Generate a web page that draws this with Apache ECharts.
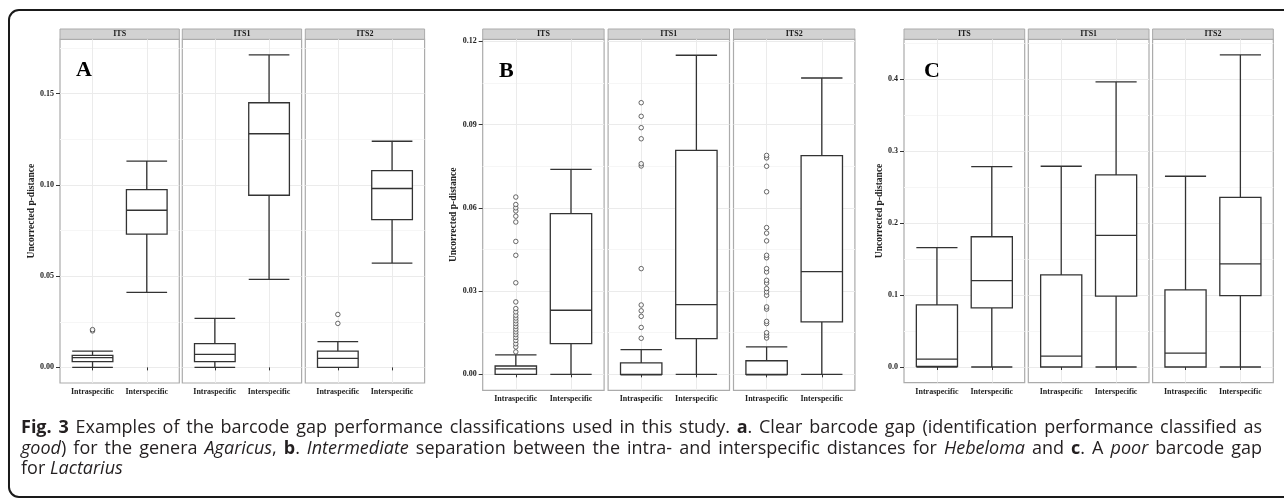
<!DOCTYPE html>
<html lang="en">
<head>
<meta charset="UTF-8">
<title>Fig. 3 barcode gap</title>
<script src="https://cdn.jsdelivr.net/npm/echarts@6/dist/echarts.min.js"></script>
<style>
  html, body { margin: 0; padding: 0; background: #fff; }
  #main { width: 1284px; height: 499px; }
</style>
</head>
<body>
<div id="main"></div>
<script>
var categories = ['Intraspecific', 'Interspecific'];
var markers = ['ITS', 'ITS1', 'ITS2'];
var letters = ['A', 'B', 'C'];

// boxes: [lower whisker, Q1, median, Q3, upper whisker], one per marker
var agaricusIntra = [
  [0, 0.0031, 0.0053, 0.0066, 0.0089],
  [0, 0.0031, 0.0071, 0.0130, 0.0268],
  [0, 0.0000, 0.0049, 0.0089, 0.0141]
];
var agaricusInter = [
  [0.0411, 0.0730, 0.0861, 0.0974, 0.1130],
  [0.0482, 0.0943, 0.1280, 0.1450, 0.1712],
  [0.0571, 0.0810, 0.0980, 0.1078, 0.1239]
];
var agaricusOutliers = [[0.0200, 0.0207], [], [0.0241, 0.0290]];
var agaricusTicks = [0, 0.05, 0.10, 0.15];

var hebelomaIntra = [
  [0, 0, 0.0020, 0.0030, 0.0070],
  [0, 0, 0, 0.0041, 0.0089],
  [0, 0, 0, 0.0049, 0.0099]
];
var hebelomaInter = [
  [0, 0.0111, 0.0231, 0.0579, 0.0739],
  [0, 0.0129, 0.0251, 0.0807, 0.1150],
  [0, 0.0189, 0.0370, 0.0788, 0.1068]
];
var hebelomaOutliers = [
  [0.0081, 0.0099, 0.0110, 0.0122, 0.0133, 0.0143, 0.0153, 0.0163, 0.0173, 0.0183, 0.0193, 0.0203,
   0.0213, 0.0225, 0.0237, 0.0261, 0.0330, 0.0429, 0.0479, 0.0549, 0.0570, 0.0589, 0.0600, 0.0612, 0.0639],
  [0.0130, 0.0169, 0.0209, 0.0229, 0.0250, 0.0381, 0.0751, 0.0759, 0.0849, 0.0889, 0.0930, 0.0979],
  [0.0131, 0.0141, 0.0150, 0.0183, 0.0191, 0.0235, 0.0243, 0.0285, 0.0297, 0.0309, 0.0329, 0.0339,
   0.0369, 0.0381, 0.0420, 0.0429, 0.0481, 0.0509, 0.0529, 0.0658, 0.0750, 0.0780, 0.0789]
];
var hebelomaTicks = [0, 0.03, 0.06, 0.09, 0.12];

var lactariusIntra = [
  [0, 0.0010, 0.0110, 0.0864, 0.1658],
  [0, 0, 0.0152, 0.1280, 0.2790],
  [0, 0, 0.0194, 0.1072, 0.2651]
];
var lactariusInter = [
  [0, 0.0822, 0.1201, 0.1810, 0.2785],
  [0, 0.0984, 0.1829, 0.2670, 0.3963],
  [0, 0.0993, 0.1432, 0.2356, 0.4337]
];
var lactariusOutliers = [[], [], []];
var lactariusTicks = [0, 0.1, 0.2, 0.3, 0.4];

var captionLines = [
  '{b|Fig. 3} Examples of the barcode gap performance classifications used in this study. {b|a}. Clear barcode gap (identification performance classified as',
  '{i|good}) for the genera {i|Agaricus}, {b|b}. {i|Intermediate} separation between the intra- and interspecific distances for {i|Hebeloma} and {b|c}. A {i|poor} barcode gap',
  'for {i|Lactarius}'
];

var panelData = [
  { intra: agaricusIntra, inter: agaricusInter, out: agaricusOutliers, ticks: agaricusTicks, digits: 2 },
  { intra: hebelomaIntra, inter: hebelomaInter, out: hebelomaOutliers, ticks: hebelomaTicks, digits: 2 },
  { intra: lactariusIntra, inter: lactariusInter, out: lactariusOutliers, ticks: lactariusTicks, digits: 1 }
];

// layout of the three ggplot panels (pixels)
var panelLayout = [
  { lefts: [60, 182.3, 305.3], width: 119.3, top: 39.3, bottom: 383, nameGap: 22, letter: [76, 70] },
  { lefts: [482.7, 608.1, 733.5], width: 121.4, top: 39.3, bottom: 390.3, nameGap: 22, letter: [499, 71] },
  { lefts: [904, 1028.3, 1152.6], width: 120.7, top: 39.3, bottom: 382.6, nameGap: 17, letter: [924, 71] }
];

var serif = '"Liberation Serif", "DejaVu Serif", serif';
var ink = '#333';
var grids = [], xAxes = [], yAxes = [], series = [], graphics = [];

panelData.forEach(function (pd, p) {
  var lay = panelLayout[p];
  var all = [];
  for (var f = 0; f < 3; f++) {
    all = all.concat(pd.intra[f], pd.inter[f], pd.out[f]);
  }
  var dMax = Math.max.apply(null, all), dMin = Math.min.apply(null, all);
  var pad = (dMax - dMin) * 0.05;
  var yMin = dMin - pad, yMax = dMax + pad;
  var step = pd.ticks[1] - pd.ticks[0];
  var height = lay.bottom - lay.top;

  for (var f = 0; f < 3; f++) {
    var left = lay.lefts[f];
    var inset = lay.width / 22;
    var bg = grids.length;
    grids.push({ left: left, top: lay.top, width: lay.width, height: height, show: true,
      borderColor: '#ababab', borderWidth: 1.2, backgroundColor: 'transparent', outerBoundsMode: 'none' });
    grids.push({ left: left + inset, top: lay.top, width: lay.width - 2 * inset, height: height,
      outerBoundsMode: 'none' });

    xAxes.push({ gridIndex: bg, type: 'value', show: false, min: 0, max: 1 });
    yAxes.push({
      gridIndex: bg, type: 'value', min: yMin, max: yMax,
      minInterval: step, maxInterval: step,
      axisLine: { show: false },
      axisTick: { show: f === 0, customValues: pd.ticks, length: 4, lineStyle: { color: ink, width: 1 } },
      axisLabel: {
        show: f === 0, customValues: pd.ticks, margin: 6,
        fontFamily: serif, fontWeight: 'bold', fontSize: 8, color: '#222',
        formatter: (function (d) { return function (v) { return v.toFixed(d); }; })(pd.digits)
      },
      splitLine: { show: true, lineStyle: { color: '#ebebeb', width: 1 } },
      minorTick: { show: false, splitNumber: 2 },
      minorSplitLine: { show: true, lineStyle: { color: '#f6f6f6', width: 1 } },
      name: f === 0 ? 'Uncorrected p-distance' : '',
      nameLocation: 'middle', nameRotate: 90, nameGap: lay.nameGap,
      nameTextStyle: { fontFamily: serif, fontWeight: 'bold', fontSize: 9.5, color: '#222' }
    });

    var dg = bg + 1;
    xAxes.push({
      gridIndex: dg, type: 'category', data: categories, boundaryGap: true,
      axisLine: { show: false },
      axisTick: { show: true, alignWithLabel: true, length: 3, lineStyle: { color: ink } },
      axisLabel: { interval: 0, margin: 5, fontFamily: serif, fontWeight: 'bold', fontSize: 8, color: '#222' },
      splitLine: { show: true, alignWithLabel: true, lineStyle: { color: '#ebebeb', width: 1 } }
    });
    yAxes.push({ gridIndex: dg, type: 'value', min: yMin, max: yMax, show: false, splitLine: { show: false } });

    series.push({
      type: 'boxplot', xAxisIndex: dg, yAxisIndex: dg,
      data: [pd.intra[f], pd.inter[f]],
      boxWidth: ['75%', '75%'],
      itemStyle: { color: '#fff', borderColor: ink, borderWidth: 1.3 },
      emphasis: { disabled: true }
    });
    series.push({
      type: 'custom', xAxisIndex: dg, yAxisIndex: dg,
      data: [[0, pd.intra[f][2]], [1, pd.inter[f][2]]],
      encode: { x: 0, y: 1 },
      renderItem: function (params, api) {
        var pt = api.coord([api.value(0), api.value(1)]);
        var w = api.size([1, 0])[0] * 0.75;
        return { type: 'line', shape: { x1: pt[0] - w / 2, y1: pt[1], x2: pt[0] + w / 2, y2: pt[1] },
          style: { stroke: ink, lineWidth: 2.4 } };
      }
    });
    if (pd.out[f].length) {
      series.push({
        type: 'scatter', xAxisIndex: dg, yAxisIndex: dg,
        data: pd.out[f].map(function (v) { return [0, v]; }),
        symbol: 'circle', symbolSize: 4.5,
        itemStyle: { color: '#fff', borderColor: '#444', borderWidth: 1 }
      });
    }

    // facet strip
    graphics.push({ type: 'rect', shape: { x: left, y: 29, width: lay.width, height: lay.top - 29 },
      style: { fill: '#d2d2d2', stroke: '#ababab', lineWidth: 1 } });
    graphics.push({ type: 'text', x: left + lay.width / 2, y: (29 + lay.top) / 2,
      style: { text: markers[f], fontFamily: serif, fontWeight: 'bold', fontSize: 8, fill: '#1a1a1a',
        align: 'center', verticalAlign: 'middle' } });
  }

  graphics.push({ type: 'text', x: lay.letter[0], y: lay.letter[1], z: 10,
    style: { text: letters[p], fontFamily: serif, fontWeight: 'bold', fontSize: 22, fill: '#000',
      align: 'left', verticalAlign: 'middle' } });
});

// outer frame
graphics.push({ type: 'rect', shape: { x: 9, y: 10, width: 1300, height: 487, r: 10 },
  style: { fill: 'none', stroke: '#1a1a1a', lineWidth: 2 } });

// caption, justified word by word between capLeft and capRight
var capFamily = '"Open Sans", "Noto Sans", sans-serif';
var capLeft = 21, capRight = 1262;
var capY = [428, 448.5, 469];
var capKinds = {
  n: { fontSize: 18, fontWeight: 'normal', fontStyle: 'normal' },
  b: { fontSize: 18, fontWeight: 'bold', fontStyle: 'normal' },
  i: { fontSize: 18, fontWeight: 'normal', fontStyle: 'italic' }
};
var ctx = document.createElement('canvas').getContext('2d');
function measure(piece) {
  var k = capKinds[piece.kind];
  ctx.font = k.fontStyle + ' ' + k.fontWeight + ' ' + k.fontSize + 'px ' + capFamily;
  return ctx.measureText(piece.text).width;
}
function parseWords(line) {
  var re = /\{(b|i)\|([^}]*)\}|([^{]+)/g, m, words = [[]];
  while ((m = re.exec(line))) {
    var kind = m[1] || 'n', txt = m[1] ? m[2] : m[3];
    txt.split(' ').forEach(function (part, j) {
      if (j > 0) words.push([]);
      if (part) words[words.length - 1].push({ kind: kind, text: part });
    });
  }
  return words.filter(function (w) { return w.length; });
}
captionLines.forEach(function (line, k) {
  var words = parseWords(line);
  var widths = words.map(function (w) {
    return w.reduce(function (s, pc) { return s + measure(pc); }, 0);
  });
  var total = widths.reduce(function (a, b) { return a + b; }, 0);
  var gap = k < captionLines.length - 1
    ? (capRight - capLeft - total) / (words.length - 1)
    : measure({ kind: 'n', text: ' ' });
  var x = capLeft;
  words.forEach(function (w, j) {
    var px = x;
    w.forEach(function (pc) {
      var st = capKinds[pc.kind];
      graphics.push({ type: 'text', x: px, y: capY[k],
        style: { text: pc.text, fontFamily: capFamily, fontSize: st.fontSize, fontWeight: st.fontWeight,
          fontStyle: st.fontStyle, fill: '#231f20', align: 'left', verticalAlign: 'middle' } });
      px += measure(pc);
    });
    x += widths[j] + gap;
  });
});

var chart = echarts.init(document.getElementById('main'));
chart.setOption({
  animation: false,
  grid: grids,
  xAxis: xAxes,
  yAxis: yAxes,
  series: series,
  graphic: { elements: graphics }
});
</script>
</body>
</html>
